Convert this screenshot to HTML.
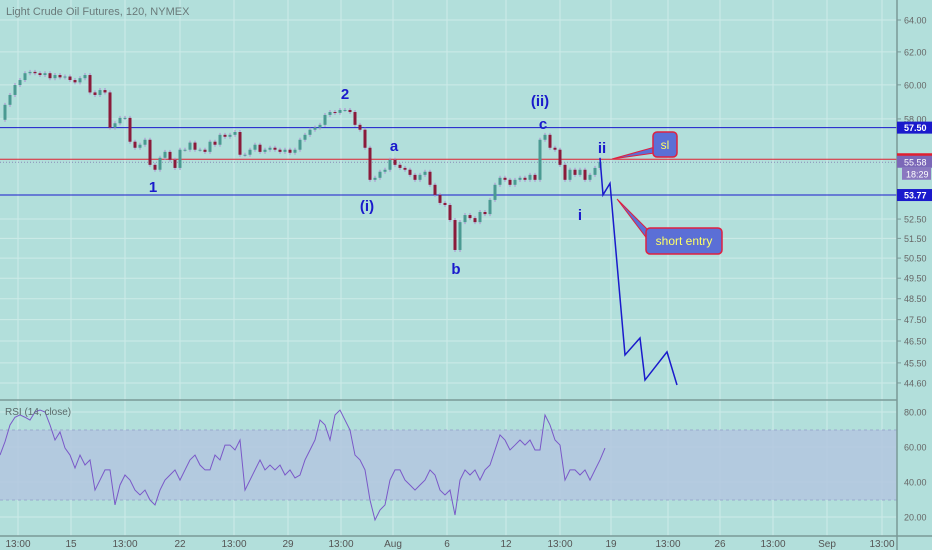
<!DOCTYPE html>
<html><head><meta charset="utf-8"><style>
body{margin:0;background:#b2dfdb;}
svg{display:block;font-family:"Liberation Sans",sans-serif;}
</style></head><body>
<svg id="c" width="932" height="550" viewBox="0 0 932 550">
<rect x="0" y="0" width="932" height="550" fill="#b2dfdb"/>
<g id="grid"></g>
<rect x="0" y="430" width="897" height="70" fill="#b3c7df" opacity="0.85"/>
<line x1="0" y1="430" x2="897" y2="430" stroke="#9aaacc" stroke-dasharray="3,3"/>
<line x1="0" y1="500" x2="897" y2="500" stroke="#9aaacc" stroke-dasharray="3,3"/>
<g id="hlines"></g>
<g id="candles"></g>
<g id="proj"></g>
<g id="rsi"></g>
<line x1="0" y1="400" x2="897" y2="400" stroke="#7a9a98" stroke-width="1.5"/>
<line x1="897" y1="0" x2="897" y2="550" stroke="#7a9a98" stroke-width="1.5"/>
<line x1="0" y1="536" x2="932" y2="536" stroke="#7a9a98" stroke-width="1.5"/>
<g id="axes"></g>
<text x="6" y="15" font-size="11" fill="#6a7a7a">Light Crude Oil Futures, 120, NYMEX</text>
<text x="5" y="415" font-size="10" fill="#5a6a6a">RSI (14, close)</text>
<g font-weight="bold" fill="#1a1acc" font-size="15">
<text x="153" y="192" text-anchor="middle">1</text>
<text x="345" y="99" text-anchor="middle">2</text>
<text x="367" y="211" text-anchor="middle">(i)</text>
<text x="394" y="151" text-anchor="middle">a</text>
<text x="456" y="274" text-anchor="middle">b</text>
<text x="540" y="106" text-anchor="middle">(ii)</text>
<text x="543" y="129" text-anchor="middle">c</text>
<text x="602" y="153" text-anchor="middle">ii</text>
<text x="580" y="220" text-anchor="middle">i</text>
</g>
<g>
<polygon points="612,159 655,147 655,153" fill="#5b6fd6" stroke="#e02040" stroke-width="1"/>
<rect x="653" y="132" width="24" height="25" rx="4" fill="#5b6fd6" stroke="#e02040" stroke-width="1.5"/>
<text x="665" y="149" font-size="12" fill="#ffff66" text-anchor="middle">sl</text>
</g>
<g>
<polygon points="617,199 648,230 648,240" fill="#5b6fd6" stroke="#e02040" stroke-width="1"/>
<rect x="646" y="228" width="76" height="26" rx="4" fill="#5b6fd6" stroke="#e02040" stroke-width="1.5"/>
<text x="684" y="245" font-size="12" fill="#ffff66" text-anchor="middle">short entry</text>
</g>
</svg>
<script>
const closes=[57.95,58.82,59.40,59.99,60.29,60.70,60.78,60.70,60.59,60.70,60.40,60.59,60.45,60.50,60.29,60.15,60.40,60.59,59.55,59.40,59.69,59.55,57.50,57.75,58.06,58.06,56.70,56.36,56.53,56.81,55.41,55.14,55.80,56.13,55.69,55.24,56.25,56.25,56.65,56.25,56.25,56.13,56.70,56.53,57.09,56.98,57.09,57.25,55.97,55.97,56.25,56.53,56.13,56.25,56.36,56.25,56.13,56.25,56.08,56.25,56.81,57.09,57.38,57.50,57.66,58.23,58.40,58.35,58.52,58.52,58.40,57.66,57.38,56.36,54.59,54.70,55.03,55.14,55.69,55.41,55.24,55.14,54.86,54.59,54.86,55.03,54.32,53.78,53.35,53.24,52.45,50.91,52.34,52.71,52.55,52.34,52.87,52.76,53.51,54.32,54.70,54.59,54.32,54.59,54.70,54.59,54.86,54.59,56.81,57.09,56.36,56.25,55.41,54.59,55.14,54.86,55.14,54.59,54.86,55.24,55.58];
const rsiVals=[55.4,63,72.6,77,78.3,77,75.4,80,81.1,80,72.6,64,68.6,59.4,55.4,48,55.4,49.7,52.6,35.4,41.1,46.9,46.9,26.9,38.3,44,41.1,35.4,32.6,35.4,29.7,26.9,35.4,41.1,44,46.9,41.1,46.9,52.6,55.4,49.7,46.9,46.9,55.4,52.6,61.1,61.1,58.3,64,35.4,41.1,46.9,52.6,46.9,49.7,46.9,49.7,44,46.9,42.3,44,52.6,58.3,64,75.4,72.6,64,78.3,81.1,75.4,69.7,55.4,52.6,46.9,29.7,18.3,24,26.9,41.1,46.9,46.9,41.1,38.3,35.4,38.3,41.1,46.9,44,35.4,32.6,35.4,21.1,41.1,46.9,44,46.9,41.1,46.9,49.7,58.3,66.9,64,58.3,61.1,64,61.1,64,58.3,58.3,78.3,72.6,64,61.1,41.1,46.9,46.9,44,46.9,41.1,46.9,52.6,59.4];
const projIdx=[120,120.6,122,125,128,129,133.4,135.4];
const projPrice=[55.80,53.78,54.40,45.86,46.64,44.73,46.00,44.51];
const priceTicks=["64.00","62.00","60.00","58.00","52.50","51.50","50.50","49.50","48.50","47.50","46.50","45.50","44.60"];
const rsiTicks=["80.00","60.00","40.00","20.00"];
const timeLabels=["13:00","15","13:00","22","13:00","29","13:00","Aug","6","12","13:00","19","13:00","26","13:00","Sep","13:00"];
const levels=[{p:57.50,c:"#1a1acc",t:"57.50"},{p:55.72,c:"#e02030",t:"55.72"},{p:53.77,c:"#1a1acc",t:"53.77"}];
const tx=[18,71,125,180,234,288,341,393,447,506,560,611,668,720,773,827,882];
const NS="http://www.w3.org/2000/svg";
function X(i){return i*5;}
function Y(p){return 20+(Math.log(64)-Math.log(p))*1005;}
function RY(v){return 412+(80-v)*1.75;}
function mk(t,a,parent){const e=document.createElementNS(NS,t);for(const k in a)e.setAttribute(k,a[k]);document.getElementById(parent).appendChild(e);return e;}
for(let k=0;k<tx.length;k++){
 const g=mk('line',{x1:tx[k],y1:0,x2:tx[k],y2:536,stroke:'#cdebe8','stroke-width':1},'grid');
 
 const t=mk('text',{x:tx[k],y:547,'font-size':10,fill:'#555','text-anchor':'middle'},'axes');
 
 t.textContent=timeLabels[k];
}
priceTicks.forEach(s=>{const y=Y(parseFloat(s));
 const g=mk('line',{x1:0,y1:y,x2:897,y2:y,stroke:'#cdebe8','stroke-width':1},'grid');
 
 mk('line',{x1:897,y1:y,x2:901,y2:y,stroke:'#7a9a98'},'axes');
 const t=mk('text',{x:904,y:y+3.5,'font-size':9,fill:'#666'},'axes');
 
 t.textContent=s;});
rsiTicks.forEach(s=>{const y=RY(parseFloat(s));
 const g=mk('line',{x1:0,y1:y,x2:897,y2:y,stroke:'#cdebe8','stroke-width':1},'grid');
 
 const t=mk('text',{x:904,y:y+3.5,'font-size':9,fill:'#666'},'axes');
 
 t.textContent=s;});
levels.forEach(l=>{const y=Y(l.p);
 const ln=mk('line',{x1:0,y1:y,x2:897,y2:y,stroke:l.c,'stroke-width':1},'hlines');
 
 const r=mk('rect',{x:897,y:y-6,width:35,height:12,fill:l.c},'axes');
 
 const t=mk('text',{x:904,y:y+3.5,'font-size':9,fill:'#fff','font-weight':'bold'},'axes');
 
 t.textContent=l.t;});
{const y=Y(55.72)+3;const d=mk('line',{x1:0,y1:y,x2:897,y2:y,stroke:'#8a8ab8','stroke-dasharray':'1,2'},'hlines');
 }
{const y=Y(55.58);const r=mk('rect',{x:897,y:y-6,width:35,height:12,fill:'#7b68b8'},'axes');
 
 const t=mk('text',{x:904,y:y+3.5,'font-size':9,fill:'#fff'},'axes');t.textContent='55.58';
 
 const r2=mk('rect',{x:902,y:y+6,width:29,height:12,fill:'#8a78c0'},'axes');
 
 const t2=mk('text',{x:906,y:y+15.5,'font-size':9,fill:'#fff'},'axes');t2.textContent='18:29';
 }
for(let i=1;i<closes.length;i++){
 const o=closes[i-1],c=closes[i],x=X(i);
 const hi=Math.max(o,c)*1.002,lo=Math.min(o,c)*0.998;
 const w=mk('line',{x1:x,y1:Y(hi),x2:x,y2:Y(lo),stroke:'#b08ad0','stroke-width':1},'candles');
 
 const up=c>=o;
 const b=mk('rect',{x:x-1.5,y:Y(Math.max(o,c)),width:3,height:Math.max(1,Y(Math.min(o,c))-Y(Math.max(o,c))),fill:up?'#4a9a92':'#8a1a3a'},'candles');
 
}
{const pts=projIdx.map((v,i)=>X(v)+','+Y(projPrice[i])).join(' ');
 const p=mk('polyline',{points:pts,fill:'none',stroke:'#1a1acc','stroke-width':1.5},'proj');
 }
{const pts=rsiVals.map((v,i)=>X(i)+','+RY(v)).join(' ');
 const p=mk('polyline',{points:pts,fill:'none',stroke:'#7a58c8','stroke-width':1},'rsi');
 }
</script>
</body></html>
